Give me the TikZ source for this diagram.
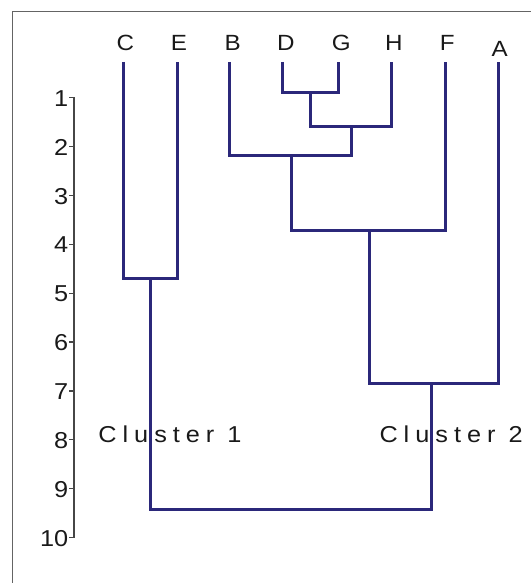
\documentclass[tikz,border=0pt]{standalone}
\usepackage{fontspec}
\setmainfont{Liberation Sans}[FakeStretch=1.1]
\newfontfamily\clusterfont{Liberation Sans}[FakeStretch=1.1,LetterSpace=26]
\definecolor{navy}{RGB}{43,40,122}
\definecolor{axisgray}{RGB}{70,70,70}
\definecolor{framegray}{RGB}{100,100,100}
\begin{document}
\begin{tikzpicture}[x=1pt,y=-1pt,
  branch/.style={draw=navy,line width=3pt,line join=miter},
  leaflabel/.style={anchor=base,inner sep=0pt,font=\fontsize{22}{26}\selectfont,text=black!90},
  ticklabel/.style={anchor=east,inner sep=0pt,font=\fontsize{23}{27}\selectfont,text=black!90},
  clusterlabel/.style={anchor=base west,inner sep=0pt,font=\clusterfont\fontsize{23}{27}\selectfont,text=black!90},
  axisline/.style={draw=axisgray,line width=1.2pt},
  frameline/.style={draw=framegray,line width=1pt}]
\useasboundingbox (0,0) rectangle (531,583);
% frame
\draw[frameline] (12.2,583) -- (12.2,11.2) -- (531,11.2);
% axis
\foreach \k in {1,...,10}{
  \coordinate (t\k) at (74,{97.5+48.9*(\k-1)});
  \node[ticklabel] (n\k) at (68.5,{98.3+48.9*(\k-1)}) {\k};
}
\draw[axisline] (t1) -- (t10);
\foreach \k in {1,...,10}{ \draw[axisline] (t\k) -- ++(-5,0); }
% leaves
\coordinate (C) at (123.8,62);
\coordinate (E) at (177,62);
\coordinate (B) at (229.3,62);
\coordinate (D) at (282.8,62);
\coordinate (G) at (338.6,62);
\coordinate (H) at (391.5,62);
\coordinate (F) at (445.6,62);
\coordinate (A) at (498.3,62);
\node[leaflabel] (lC) at (125.3,51) {C};
\node[leaflabel] (lE) at (179,51) {E};
\node[leaflabel] (lB) at (232.6,51) {B};
\node[leaflabel] (lD) at (285.8,51) {D};
\node[leaflabel] (lG) at (341.3,51) {G};
\node[leaflabel] (lH) at (393.8,51) {H};
\node[leaflabel] (lF) at (447.2,51) {F};
\node[leaflabel] (lA) at (499.7,57) {A};
% merge points
\coordinate (dg) at (310.8,93);
\coordinate (dgh) at (351.5,126);
\coordinate (bdgh) at (291,155);
\coordinate (bf) at (369,230);
\coordinate (ce) at (150.5,278.5);
\coordinate (ba) at (431,383.5);
\coordinate (root) at (291,509.5);
% cluster labels
\node[clusterlabel] (cl1) at (98.2,442.5) {Cluster 1};
\node[clusterlabel] (cl2) at (379.3,442.5) {Cluster 2};
% branches
\draw[branch] (D) |- (dg) -| (G);
\draw[branch] (dg) |- (dgh) -| (H);
\draw[branch] (B) |- (bdgh) -| (dgh);
\draw[branch] (bdgh) |- (bf) -| (F);
\draw[branch] (C) |- (ce) -| (E);
\draw[branch] (bf) |- (ba) -| (A);
\draw[branch] (ce) |- (root) -| (ba);
\end{tikzpicture}
\end{document}
